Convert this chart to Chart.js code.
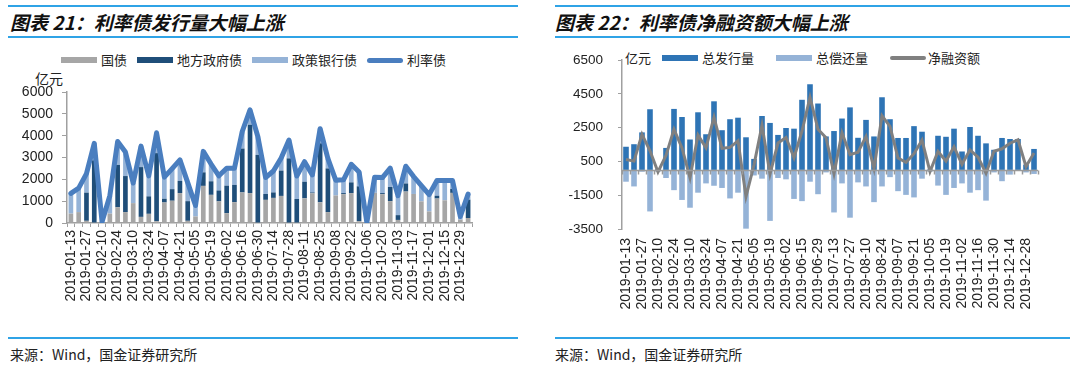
<!DOCTYPE html>
<html>
<head>
<meta charset="utf-8">
<script src="https://cdn.jsdelivr.net/npm/chart.js@4.4.1/dist/chart.umd.min.js"></script>
<style>
body{margin:0;width:1080px;height:374px;background:#fff;position:relative;overflow:hidden;font-family:"Noto Sans CJK SC",sans-serif;color:#222}
.rule{position:absolute;height:2px;background:#2fa3e6}
.title{position:absolute;top:9px;font-size:19px;font-weight:bold;font-style:italic;line-height:26px;color:#111;white-space:nowrap}
.legend{position:absolute;display:flex;align-items:center;font-size:13px;line-height:16px;white-space:nowrap}
.legend .sw{display:inline-block;width:36px;height:6px;margin-right:4px}
.legend .tx{margin-right:10px}
.unit{position:absolute;font-size:14px;line-height:16px}
.src{position:absolute;top:345px;font-size:14px;line-height:18px}
canvas{position:absolute}
</style>
</head>
<body>
<div class="rule" style="left:8px;width:510px;top:5px"></div>
<div class="rule" style="left:8px;width:510px;top:36px"></div>
<div class="title" style="left:10px">图表 21：利率债发行量大幅上涨</div>
<div class="legend" style="left:61px;top:52px">
  <span class="sw" style="background:#a6a6a6"></span><span class="tx">国债</span>
  <span class="sw" style="background:#1f4e79"></span><span class="tx">地方政府债</span>
  <span class="sw" style="background:#95b3d7"></span><span class="tx">政策银行债</span>
  <span class="sw" style="background:#4a7ebf;height:5px;border-radius:3px"></span><span class="tx">利率债</span>
</div>
<div class="unit" style="left:35px;top:70px">亿元</div>
<canvas id="leftChart" width="540" height="241" style="left:0;top:72px"></canvas>
<div class="rule" style="left:8px;width:510px;top:337px"></div>
<div class="src" style="left:10px">来源：Wind，国金证券研究所</div>

<div class="rule" style="left:555px;width:515px;top:5px"></div>
<div class="rule" style="left:555px;width:515px;top:36px"></div>
<div class="title" style="left:555px">图表 22：利率债净融资额大幅上涨</div>
<div class="legend" style="left:662px;top:50px">
  <span class="sw" style="background:#2e74b5"></span><span class="tx" style="margin-right:22px">总发行量</span>
  <span class="sw" style="background:#95b3d7"></span><span class="tx" style="margin-right:22px">总偿还量</span>
  <span class="sw" style="background:#808080;height:4px;border-radius:2px;margin-right:2px"></span><span class="tx">净融资额</span>
</div>
<div class="unit" style="left:625px;top:50px;font-size:13px">亿元</div>
<canvas id="rightChart" width="540" height="282" style="left:540px;top:37px"></canvas>
<div class="rule" style="left:555px;width:515px;top:337px"></div>
<div class="src" style="left:555px">来源：Wind，国金证券研究所</div>

<script>
// 图表21：周度发行量（亿元）
const weeksL = ['2019-01-13','2019-01-20','2019-01-27','2019-02-03','2019-02-10','2019-02-17','2019-02-24','2019-03-03','2019-03-10','2019-03-17','2019-03-24','2019-03-31','2019-04-07','2019-04-14','2019-04-21','2019-04-28','2019-05-05','2019-05-12','2019-05-19','2019-05-26','2019-06-02','2019-06-09','2019-06-16','2019-06-23','2019-06-30','2019-07-07','2019-07-14','2019-07-21','2019-07-28','2019-08-04','2019-08-11','2019-08-18','2019-08-25','2019-09-01','2019-09-08','2019-09-15','2019-09-22','2019-09-29','2019-10-06','2019-10-13','2019-10-20','2019-10-27','2019-11-03','2019-11-10','2019-11-17','2019-11-24','2019-12-01','2019-12-08','2019-12-15','2019-12-22','2019-12-29','2020-01-05'];
const govBond = [430,500,100,0,0,430,720,500,910,280,420,80,940,1020,1370,100,300,1700,1290,990,450,955,1400,1370,0,1060,1150,1240,0,0,1130,1360,950,500,1260,1320,1370,80,0,1380,1320,1000,140,1440,1330,990,530,1120,1040,1380,150,230];
const localBond = [0,0,1290,2870,30,0,1940,1650,0,2280,800,3120,170,530,560,900,0,620,620,500,1260,790,2010,3130,3120,270,250,1160,2960,1100,760,40,2700,2000,0,50,490,1600,0,0,50,650,220,370,0,0,0,130,0,180,0,840];
const policyBond = [930,1100,870,780,30,820,1070,1100,920,960,940,930,990,940,960,850,500,960,790,670,800,765,780,680,840,750,980,580,840,1050,920,800,670,450,700,610,830,660,30,720,710,860,890,790,800,720,770,700,910,390,150,250];
const rateBond = [1360,1600,2260,3650,60,1250,3730,3250,1830,3520,2160,4130,2100,2490,2890,1850,800,3280,2700,2160,2510,2510,4190,5180,3960,2080,2380,2980,3800,2150,2810,2200,4320,2950,1960,1980,2690,2340,30,2100,2080,2510,1250,2600,2130,1710,1300,1950,1950,1950,300,1320];
const leftTicks = [0,1000,2000,3000,4000,5000,6000];

// 图表22：周度净融资（亿元）
const weeksR = ['2019-01-13','2019-01-20','2019-01-27','2019-02-03','2019-02-10','2019-02-17','2019-02-24','2019-03-03','2019-03-10','2019-03-17','2019-03-24','2019-03-31','2019-04-07','2019-04-14','2019-04-21','2019-04-28','2019-05-05','2019-05-12','2019-05-19','2019-05-26','2019-06-02','2019-06-08','2019-06-15','2019-06-22','2019-06-29','2019-07-06','2019-07-13','2019-07-20','2019-07-27','2019-08-03','2019-08-10','2019-08-17','2019-08-24','2019-08-31','2019-09-07','2019-09-14','2019-09-21','2019-09-28','2019-10-05','2019-10-12','2019-10-19','2019-10-26','2019-11-02','2019-11-09','2019-11-16','2019-11-23','2019-11-30','2019-12-07','2019-12-14','2019-12-21','2019-12-28','2020-01-04'];
const totalIssue = [1370,1520,2220,3590,50,1300,3610,3130,1800,3410,2110,4060,2350,3000,3090,1930,650,3190,2780,2070,2480,2440,4150,5070,3930,1980,2300,3040,3700,1900,2960,1980,4300,3000,1890,1890,2590,2260,30,2020,1960,2440,1090,2540,2020,1570,1190,1890,1830,1830,310,1240];
const totalRepay = [-700,-980,-110,-2460,-100,-480,-1200,-1780,-2240,-1350,-800,-940,-1070,-1690,-1350,-3480,-330,-520,-3020,-480,-560,-1720,-1850,-700,-1440,-150,-2520,-800,-2830,-740,-980,-1910,-980,-430,-1260,-1480,-1630,-520,-100,-930,-1480,-1070,-800,-1350,-1200,-1820,-150,-670,-280,-60,-150,-240];
const netFinance = [620,520,2100,1130,-120,850,2400,1300,-460,2060,1310,3120,1280,1330,1720,-1580,300,2640,-240,1590,1920,720,2300,4300,2400,1900,-220,2200,900,1050,1980,70,3200,2580,700,450,960,1760,-100,1090,520,1370,330,1190,760,-200,1100,1250,1580,1780,200,1000];
const rightTicks = [-3500,-1500,500,2500,4500,6500];

Chart.defaults.font.family = '"Liberation Sans", Arial, sans-serif';
Chart.defaults.color = '#222';

function everyOther(v, i) {
    return i % 2 === 0 ? this.getLabelForValue(v) : '';
}
const plainNum = v => String(v);

const xTickFont = { size: 14 };

new Chart(document.getElementById('leftChart'), {
    data: {
        labels: weeksL,
        datasets: [
            { type: 'line', label: '利率债', data: rateBond, borderColor: '#4a7ebf', borderWidth: 5,
              pointRadius: 0, tension: 0, borderJoinStyle: 'round', borderCapStyle: 'round', order: 0, stack: 'total' },
            { type: 'bar', label: '国债', data: govBond, backgroundColor: '#a6a6a6', order: 1, stack: 'bars',
              barPercentage: 0.6, categoryPercentage: 1 },
            { type: 'bar', label: '地方政府债', data: localBond, backgroundColor: '#1f4e79', order: 1, stack: 'bars',
              barPercentage: 0.6, categoryPercentage: 1 },
            { type: 'bar', label: '政策银行债', data: policyBond, backgroundColor: '#95b3d7', order: 1, stack: 'bars',
              barPercentage: 0.6, categoryPercentage: 1 }
        ]
    },
    options: {
        responsive: false,
        animation: false,
        devicePixelRatio: 1,
        layout: { padding: { top: 20, right: 68, bottom: 0, left: 0 } },
        plugins: { legend: { display: false }, tooltip: { enabled: false } },
        scales: {
            x: {
                stacked: true,
                afterFit: s => { s.height = 90; },
                grid: { drawOnChartArea: false, drawTicks: true, tickLength: 4, color: '#a0a0a0', offset: true },
                border: { display: true, color: '#a0a0a0', width: 1.5 },
                ticks: { autoSkip: false, minRotation: 90, maxRotation: 90, padding: 3, font: xTickFont, callback: everyOther }
            },
            y: {
                stacked: true,
                min: leftTicks[0],
                max: leftTicks[leftTicks.length - 1],
                afterFit: s => { s.width = 67; },
                grid: { drawOnChartArea: false, drawTicks: true, tickLength: 5, color: '#a0a0a0' },
                border: { display: true, color: '#a0a0a0', width: 1.5 },
                ticks: { stepSize: leftTicks[1] - leftTicks[0], padding: 9, font: { size: 14 }, callback: plainNum }
            }
        }
    }
});

// 零轴及其刻度
const zeroAxis = {
    id: 'zeroAxis',
    afterDatasetsDraw(chart) {
        const { ctx, chartArea: a, scales: { x, y } } = chart;
        const y0 = Math.round(y.getPixelForValue(0)) + 0.5;
        ctx.save();
        ctx.strokeStyle = '#9a9a9a';
        ctx.lineWidth = 1.5;
        ctx.beginPath();
        ctx.moveTo(a.left, y0);
        ctx.lineTo(a.right, y0);
        for (let i = 0; i <= x.ticks.length; i++) {
            const px = Math.round(x.getPixelForValue(i - 0.5)) + 0.5;
            ctx.moveTo(px, y0);
            ctx.lineTo(px, y0 + 4);
        }
        ctx.stroke();
        ctx.restore();
    }
};

new Chart(document.getElementById('rightChart'), {
    data: {
        labels: weeksR,
        datasets: [
            { type: 'line', label: '净融资额', data: netFinance, borderColor: '#808080', borderWidth: 3,
              pointRadius: 0, tension: 0, order: 0, stack: 'net' },
            { type: 'bar', label: '总发行量', data: totalIssue, backgroundColor: '#2e74b5', order: 1, stack: 'bars',
              barPercentage: 0.7, categoryPercentage: 1 },
            { type: 'bar', label: '总偿还量', data: totalRepay, backgroundColor: '#95b3d7', order: 1, stack: 'bars',
              barPercentage: 0.7, categoryPercentage: 1 }
        ]
    },
    options: {
        responsive: false,
        animation: false,
        devicePixelRatio: 1,
        layout: { padding: { top: 15, right: 42, bottom: 0, left: 0 } },
        plugins: { legend: { display: false }, tooltip: { enabled: false } },
        scales: {
            x: {
                stacked: true,
                afterFit: s => { s.height = 90; },
                grid: { display: false, drawTicks: false },
                border: { display: false },
                ticks: { autoSkip: false, minRotation: 90, maxRotation: 90, padding: 9, font: xTickFont, callback: everyOther }
            },
            y: {
                stacked: true,
                min: rightTicks[0],
                max: rightTicks[rightTicks.length - 1],
                afterFit: s => { s.width = 82; },
                grid: { drawOnChartArea: false, drawTicks: true, tickLength: 4, color: '#a0a0a0' },
                border: { display: true, color: '#a0a0a0', width: 1.5 },
                ticks: { stepSize: rightTicks[1] - rightTicks[0], padding: 15, font: { size: 13.5 }, callback: plainNum }
            }
        }
    },
    plugins: [zeroAxis]
});
</script>
</body>
</html>
